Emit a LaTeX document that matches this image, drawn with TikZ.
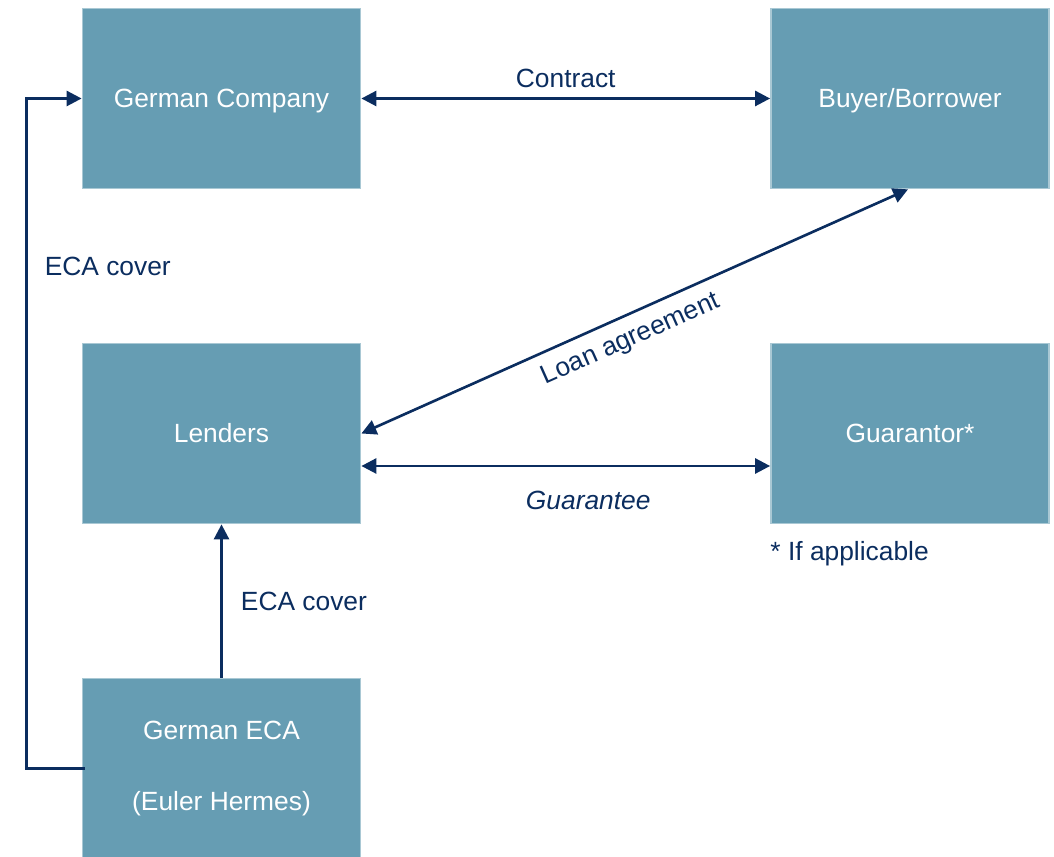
\documentclass[tikz,border=0pt]{standalone}
\usepackage{fontspec}
\setmainfont{Liberation Sans}
\usetikzlibrary{arrows.meta}
\definecolor{boxblue}{HTML}{669DB3}
\definecolor{boxedge}{HTML}{A9C8D4}
\definecolor{navy}{HTML}{0B2D5F}

\begin{document}
\begin{tikzpicture}[
  party/.style={draw=boxedge, line width=1pt, fill=boxblue, text=white,
    minimum width=5.56cm, minimum height=3.6cm, inner sep=0pt, align=center,
    font=\fontsize{15}{18}\selectfont},
  oneline/.style={text height=10.7pt, text depth=0pt},
  link/.style={draw=navy, line width=1.5pt, {Triangle[length=8.5pt,width=8.5pt]}-{Triangle[length=8.5pt,width=8.5pt]}},
  feed/.style={draw=navy, line width=1.5pt, -{Triangle[length=8.5pt,width=8.5pt]}},
  tag/.style={text=navy, font=\fontsize{15}{18}\selectfont}
]
\useasboundingbox (0,0) rectangle (21.08,17.12);

% Parties
\node[party, oneline] (gc) at (4.43,15.15) {German Company};
\node[party, oneline] (bb) at (18.2,15.15) {Buyer/Borrower};
\node[party, oneline] (len) at (4.43,8.45) {Lenders};
\node[party, oneline] (gu) at (18.2,8.45) {Guarantor*};
\node[party] (eca) at (4.43,1.75) {German ECA\\[22pt](Euler Hermes)};

% Connections
\draw[link] (gc) -- (bb) node[tag, midway, above=2pt] {Contract};
\draw[link] (len.east) -- ([xshift=-0.04cm]bb.south)
  node[tag, pos=0.475, sloped, below=3pt] {Loan agreement};
\draw[link] ([yshift=-0.65cm]len.east) -- ([yshift=-0.65cm]gu.west)
  node[tag, pos=0.555, below=10pt] {\itshape Guarantee};
\draw[feed] (eca) -- (len) node[tag, midway, right=7pt] {ECA cover};
\draw[feed] ([xshift=0.06cm]eca.west) -- ++(-1.16,0) |- (gc.west)
  node[tag, pos=0.375, right=0.22cm] {ECA cover};

% Footnote
\node[tag, anchor=north west, inner sep=0pt] (note) at ([yshift=-0.34cm]gu.south west) {* If applicable};
\end{tikzpicture}
\end{document}
